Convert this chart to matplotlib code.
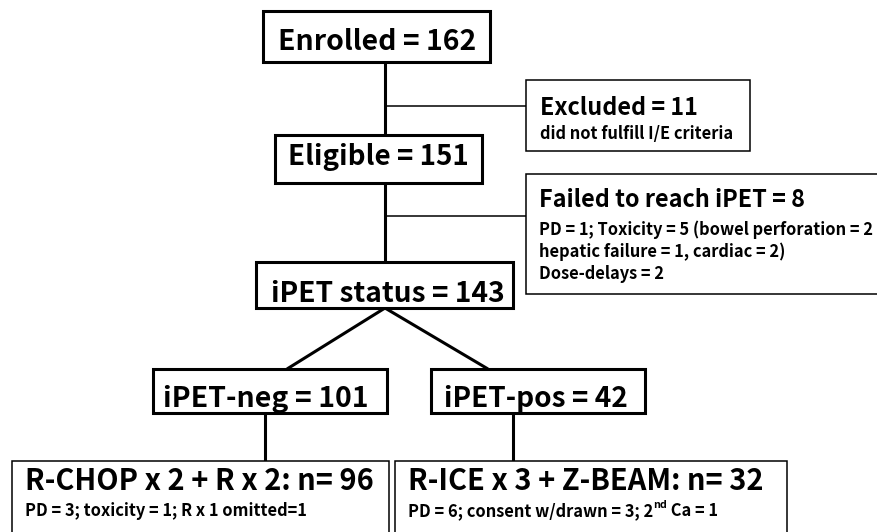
import matplotlib
matplotlib.use("Agg")
import matplotlib.pyplot as plt
from matplotlib.patches import Rectangle

plt.rcParams['font.family'] = ['Noto Sans CJK SC', 'DejaVu Sans']

# counts
n_enrolled = 162
n_excluded = 11
n_eligible = 151
n_failed = 8
n_ipet = 143
n_neg = 101
n_pos = 42
n_rchop = 96
n_rice = 32

excluded_note = "did not fulfill I/E criteria"
failed_notes = ["PD = 1; Toxicity = 5 (bowel perforation = 2",
                "hepatic failure = 1, cardiac = 2)",
                "Dose-delays = 2"]
rchop_note = "PD = 3; toxicity = 1; R x 1 omitted=1"
rice_note = ["PD = 6; consent w/drawn = 3; 2", "nd", " Ca = 1"]

fig = plt.figure(figsize=(8.78, 5.32), dpi=100)
ax = fig.add_axes([0, 0, 1, 1])
ax.set_xlim(0, 878)
ax.set_ylim(532, 0)
ax.axis('off')
renderer = fig.canvas.get_renderer()


def box(x0, y0, x1, y1, lw):
    ax.add_patch(Rectangle((x0, y0), x1 - x0, y1 - y0, fc='white',
                           ec='black', lw=lw, zorder=3, clip_on=False))


def line(xs, ys, lw):
    ax.plot(xs, ys, color='black', lw=lw, solid_capstyle='butt', zorder=1)


def put(x, y, s, width=None, size=10):
    t = ax.text(x, y, s, fontsize=size, fontweight='bold',
                ha='left', va='baseline', zorder=5)
    if width:
        w = t.get_window_extent(renderer).width
        t.set_fontsize(size * width / w)
    return t


THICK = 2.2
THIN = 1.1

# connectors
line([385, 385], [62, 262], THICK)
line([385, 526], [106, 106], THIN)
line([385, 526], [216, 216], THIN)
line([287, 385, 488], [369, 308, 369], THICK)
line([265, 265], [413, 461], THICK)
line([513, 513], [413, 461], THICK)

# boxes
box(263, 11, 490, 62, THICK)
box(275, 135, 482, 183, THICK)
box(256, 262, 513, 308, THICK)
box(153, 369, 387, 413, THICK)
box(431, 369, 645, 413, THICK)
box(526, 80, 750, 151, THIN)
box(526, 174, 900, 294, THIN)
box(12, 461, 389, 560, THIN)
box(395, 461, 787, 560, THIN)

# main labels
put(278, 50, f"Enrolled = {n_enrolled}", width=199)
put(288, 165, f"Eligible = {n_eligible}", width=181)
put(271, 302, f"iPET status = {n_ipet}", width=233)
put(163, 407, f"iPET-neg = {n_neg}", width=205)
put(444, 407, f"iPET-pos = {n_pos}", width=183)

# side boxes
put(540, 115, f"Excluded = {n_excluded}", width=158)
put(540, 139, excluded_note, width=194)
put(539, 207, f"Failed to reach iPET = {n_failed}", width=266)
t = put(539, 257, failed_notes[1], width=247)
fs = t.get_fontsize()
put(539, 235, failed_notes[0], size=fs)
put(539, 279, failed_notes[2], size=fs)

# treatment arms
t = put(25, 490, f"R-CHOP x 2 + R x 2: n= {n_rchop}", width=348)
big = t.get_fontsize()
put(408, 490, f"R-ICE x 3 + Z-BEAM: n= {n_rice}", size=big)
put(25, 516, rchop_note, size=fs)

x = 408
t = put(x, 516, rice_note[0], size=fs)
x += t.get_window_extent(renderer).width
t = put(x, 508, rice_note[1], size=fs * 0.65)
x += t.get_window_extent(renderer).width
put(x, 516, rice_note[2], size=fs)

fig.savefig("out.png", dpi=100)
